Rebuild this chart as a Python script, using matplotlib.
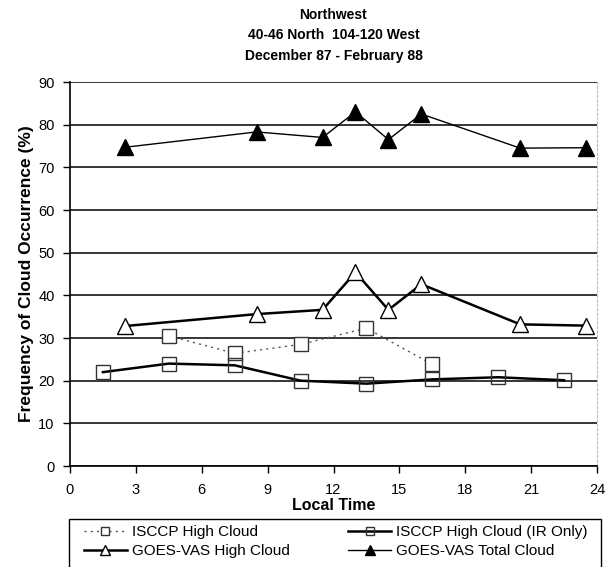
import matplotlib
matplotlib.use("Agg")
import matplotlib.pyplot as plt
from matplotlib.patches import Rectangle

plt.rcParams['font.family'] = ['Liberation Sans', 'DejaVu Sans']

# Data
isccp_hours = [4.5, 7.5, 10.5, 13.5, 16.5]
isccp_high = [30.5, 26.4, 28.5, 32.3, 23.8]

ir_hours = [1.5, 4.5, 7.5, 10.5, 13.5, 16.5, 19.5, 22.5]
isccp_ir = [22.0, 24.0, 23.6, 20.0, 19.3, 20.3, 20.8, 20.1]

goes_hours = [2.5, 8.5, 11.5, 13.0, 14.5, 16.0, 20.5, 23.5]
goes_high = [32.8, 35.6, 36.6, 45.4, 36.6, 42.6, 33.2, 32.9]
goes_total = [74.7, 78.3, 77.0, 83.0, 76.5, 82.5, 74.5, 74.6]

xticks = [0, 3, 6, 9, 12, 15, 18, 21, 24]
yticks = [0, 10, 20, 30, 40, 50, 60, 70, 80, 90]

title = "Northwest\n40-46 North  104-120 West\nDecember 87 - February 88"

W, H = 616, 567
fig = plt.figure(figsize=(W/100, H/100), dpi=100)
ax = fig.add_axes([70/W, 1-466/H, (597-70)/W, (466-82)/H])

l1, = ax.plot(isccp_hours, isccp_high, color='#555555', lw=1.0, ls=(0, (1.5, 3)),
              marker='s', ms=9.5, mfc='white', mec='#333333', mew=1.0,
              label='ISCCP High Cloud', zorder=4)
l2, = ax.plot(ir_hours, isccp_ir, color='black', lw=1.8, ls='-',
              marker='s', ms=9.5, mfc='none', mec='#333333', mew=1.0,
              label='ISCCP High Cloud (IR Only)', zorder=5)
l3, = ax.plot(goes_hours, goes_high, color='black', lw=1.8, ls='-',
              marker='^', ms=11, mfc='white', mec='black', mew=1.0,
              label='GOES-VAS High Cloud', zorder=4)
l4, = ax.plot(goes_hours, goes_total, color='black', lw=1.0, ls='-',
              marker='^', ms=11, mfc='black', mec='black', mew=1.0,
              label='GOES-VAS Total Cloud', zorder=4)

ax.set_xlim(0, 24)
ax.set_ylim(0, 90)
ax.set_xticks(xticks)
ax.set_yticks(yticks)
ax.tick_params(axis='both', labelsize=10.5, direction='out', length=5, width=1, pad=6)
ax.tick_params(axis='x', pad=7)
ax.yaxis.grid(True, color='black', lw=1.1)
ax.set_axisbelow(True)
ax.spines['top'].set_visible(False)
ax.spines['right'].set_color('#bbbbbb')
ax.spines['right'].set_linestyle((0, (2, 2)))
ax.spines['left'].set_linewidth(1.2)
ax.spines['bottom'].set_linewidth(1.2)

ax.set_xlabel('Local Time', fontsize=11.5, fontweight='bold', labelpad=1)
ax.set_ylabel('Frequency of Cloud Occurrence (%)', fontsize=12.5, fontweight='bold', labelpad=3)

fig.text((70+597)/2/W, 1-8/H, title, ha='center', va='top', fontsize=10,
         fontweight='bold', linespacing=1.58)

# legend box
fig.patches.append(Rectangle((68.5/W, -0.02), (600.5-68.5)/W, 0.02+(1-519/H),
                             transform=fig.transFigure, facecolor='white',
                             edgecolor='black', lw=1.0, zorder=5))
leg = fig.legend(handles=[l1, l3, l2, l4], loc='upper left',
                 bbox_to_anchor=(84/W, 1-526/H, (588-84)/W, 0.001),
                 mode='expand', ncol=2, fontsize=11, frameon=False,
                 handlelength=2.8, borderpad=0.0, labelspacing=0.32,
                 handletextpad=0.35, borderaxespad=0, markerscale=0.65)
leg.set_zorder(6)

fig.savefig('out.png', dpi=100)
